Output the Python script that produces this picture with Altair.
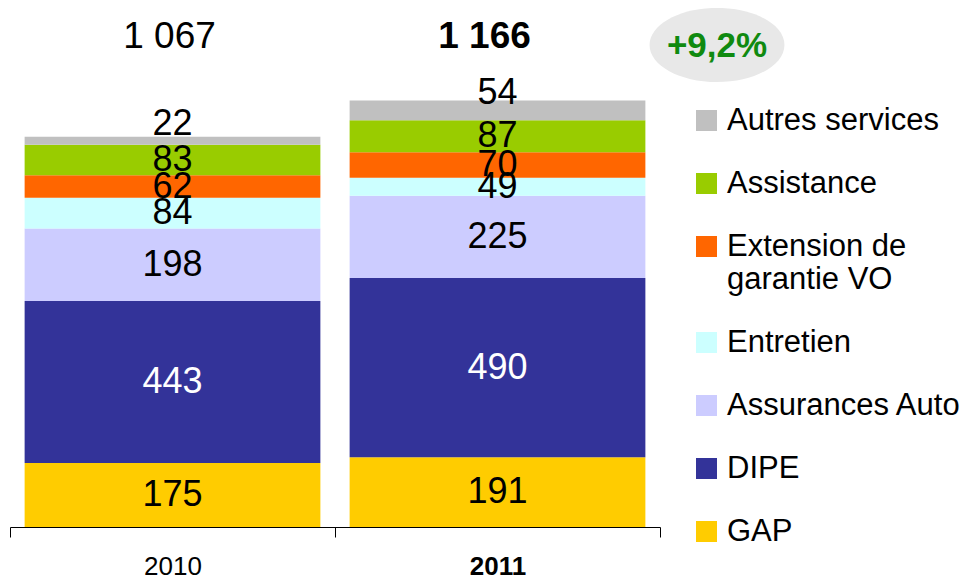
import altair as alt
import pandas as pd

years = ["2010", "2011"]
categories = ["GAP", "DIPE", "Assurances Auto", "Entretien",
              "Extension de garantie VO", "Assistance", "Autres services"]
values_2010 = [175, 443, 198, 84, 62, 83, 22]
values_2011 = [191, 490, 225, 49, 70, 87, 54]
colors = ["#FFCC00", "#333399", "#CCCCFF", "#CCFFFF", "#FF6600", "#99CC00", "#C0C0C0"]
growth_label = ["+9,2%"]

rows = []
for yr, vals in zip(years, [values_2010, values_2011]):
    cum = 0
    for i, (c, v) in enumerate(zip(categories, vals)):
        rows.append(dict(year=yr, cat=c, value=v, rank=i, mid=cum + v / 2))
        cum += v
df = pd.DataFrame(rows)

totals = pd.DataFrame({"year": years, "total": [sum(values_2010), sum(values_2011)]})
totals["label"] = totals["total"].map(lambda t: f"{t:,}".replace(",", " "))

legend_order = categories[::-1]
legend_colors = colors[::-1]

xscale = alt.Scale(domain=years, paddingInner=0, paddingOuter=0)
yscale = alt.Scale(domain=[0, 1400])

x_axis = alt.X(
    "year:N", scale=xscale, title=None,
    axis=alt.Axis(
        labelAngle=0, labelFontSize=26, labelPadding=16, labelColor="black",
        labelFontWeight=alt.ExprRef(expr="datum.value == '2011' ? 'bold' : 'normal'"),
        domainColor="black", tickColor="black", tickSize=10, tickBand="extent",
        domainWidth=1, tickWidth=1, grid=False,
    ),
)

bars = alt.Chart(df).mark_bar(width=alt.RelativeBandSize(0.91)).encode(
    x=x_axis,
    y=alt.Y("value:Q", stack="zero", scale=yscale, axis=None),
    color=alt.Color(
        "cat:N",
        scale=alt.Scale(domain=legend_order, range=legend_colors),
        legend=alt.Legend(
            title=None, orient="none", legendX=681, legendY=90,
            symbolType="square", symbolSize=441, symbolStrokeWidth=0,
            symbolOpacity=1, labelFontSize=31, labelColor="black",
            labelOffset=5, rowPadding=31, labelLimit=400,
            labelExpr="datum.label == 'Extension de garantie VO' ? ['Extension de', 'garantie VO'] : datum.label",
        ),
    ),
    order=alt.Order("rank:Q", sort="ascending"),
)

seg_labels = alt.Chart(df).transform_filter(
    alt.datum.cat != "Autres services"
).mark_text(fontSize=36, baseline="middle").encode(
    x=x_axis,
    y=alt.Y("mid:Q", scale=yscale, axis=None),
    text=alt.Text("value:Q"),
    color=alt.condition(alt.datum.cat == "DIPE", alt.value("white"), alt.value("black")),
)

top_labels = alt.Chart(df).transform_filter(
    alt.datum.cat == "Autres services"
).mark_text(fontSize=36, baseline="middle", dy=-17, color="black").encode(
    x=x_axis,
    y=alt.Y("mid:Q", scale=yscale, axis=None),
    text=alt.Text("value:Q"),
)

tot_normal = alt.Chart(totals).transform_filter(alt.datum.year == "2010").mark_text(
    fontSize=37, baseline="middle", color="black", dx=-3
).encode(x=x_axis, y=alt.value(22), text="label:N")

tot_bold = alt.Chart(totals).transform_filter(alt.datum.year == "2011").mark_text(
    fontSize=37, baseline="middle", fontWeight="bold", color="black", dx=-13
).encode(x=x_axis, y=alt.value(22), text="label:N")

growth_df = pd.DataFrame({"label": growth_label})
ellipse = alt.Chart(growth_df).mark_point(
    shape="M-1,0A1,0.55,0,1,1,1,0A1,0.55,0,1,1,-1,0Z",
    filled=True, color="#E8E8E8", opacity=1, size=18200,
).encode(x=alt.value(707), y=alt.value(30))

growth_text = alt.Chart(growth_df).mark_text(
    fontSize=35, fontWeight="bold", color="#108A10", baseline="middle"
).encode(x=alt.value(707), y=alt.value(31), text="label:N")

chart = alt.layer(
    bars, seg_labels, top_labels, tot_normal, tot_bold, ellipse, growth_text
).properties(
    width=650, height=512,
    autosize=alt.AutoSizeParams(type="none"),
    padding={"left": 2, "top": 7, "right": 300, "bottom": 55},
).configure(font="Liberation Sans").configure_view(stroke=None)

chart.save("out.html", embed_options={"renderer": "svg", "actions": False})
